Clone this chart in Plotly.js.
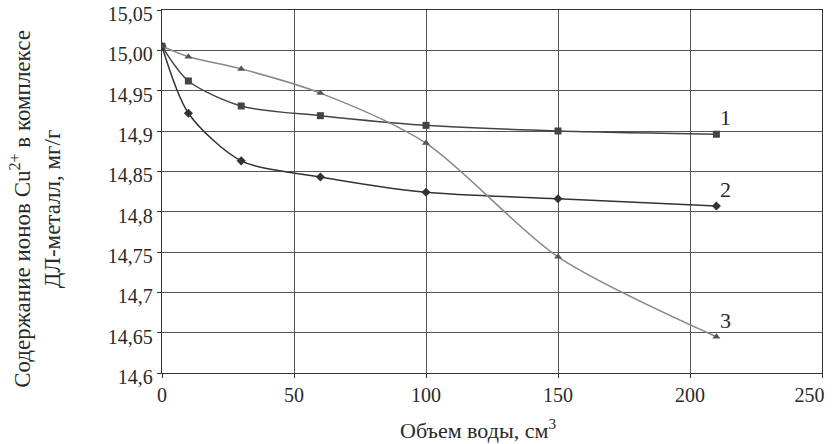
<!DOCTYPE html>
<html><head><meta charset="utf-8">
<script src="https://cdn.plot.ly/plotly-3.0.1.min.js"></script>
<style>body{margin:0;background:#fff}#chart{width:835px;height:444px}</style>
</head><body><div id="chart"></div>
<script>
const volume = [0, 10, 30, 60, 100, 150, 210];
const series1 = [15.005, 14.962, 14.931, 14.919, 14.907, 14.900, 14.896];
const series2 = [15.005, 14.922, 14.863, 14.843, 14.824, 14.816, 14.807];
const series3 = [15.005, 14.992, 14.977, 14.947, 14.885, 14.744, 14.645];
const seriesLabels = ['1', '2', '3'];
const yTickVals = [14.6, 14.65, 14.7, 14.75, 14.8, 14.85, 14.9, 14.95, 15.0, 15.05];
const yTickText = ['14,6', '14,65', '14,7', '14,75', '14,8', '14,85', '14,9', '14,95', '15,00', '15,05'];
const xTickVals = [0, 50, 100, 150, 200, 250];
const xTickText = ['0', '50', '100', '150', '200', '250\u00a0\u00a0\u00a0\u00a0\u00a0'];
const xTitle = 'Объем воды, см<sup>3</sup>';
const yTitle = 'Содержание ионов Cu<sup>2+</sup> в комплексе<br>ДЛ-металл, мг/г';

const font = {family: 'Liberation Serif, serif', color: '#2a2a2a'};
function tr(y, sym, col, lc) {
  return {x: volume, y: y, mode: 'lines+markers', type: 'scatter',
    line: {shape: 'spline', smoothing: 0.8, color: lc, width: 1.5},
    marker: {symbol: sym, size: 7, color: col}, showlegend: false, hoverinfo: 'skip'};
}
const data = [
  tr(series1, 'square', '#444', '#444'),
  tr(series2, 'diamond', '#333', '#333'),
  tr(series3, 'triangle-up', '#555', '#888')
];
const last = volume.length - 1;
const labelYs = [series1[last], series2[last], series3[last]];
const annotations = seriesLabels.map((t, i) => ({
  x: volume[last], y: labelYs[i], text: t, showarrow: false,
  xanchor: 'left', yanchor: 'bottom', xshift: 2, yshift: 2,
  font: Object.assign({size: 22}, font)
}));
annotations.push({xref: 'paper', yref: 'paper', x: -0.191, y: 0.452, textangle: -90,
  xanchor: 'center', yanchor: 'middle', showarrow: false, text: yTitle,
  font: Object.assign({size: 23}, font)});
annotations.push({xref: 'paper', yref: 'paper', x: 0.479, y: -0.155,
  xanchor: 'center', yanchor: 'middle', showarrow: false, text: xTitle,
  font: Object.assign({size: 22}, font)});
const layout = {
  width: 835, height: 444,
  margin: {l: 162, r: 13, t: 10, b: 71},
  paper_bgcolor: '#fff', plot_bgcolor: '#fff',
  font: Object.assign({size: 20}, font),
  xaxis: {range: [0, 250], tickvals: xTickVals, ticktext: xTickText,
    showgrid: true, gridcolor: '#555', gridwidth: 1, zeroline: false,
    showline: true, linecolor: '#333', linewidth: 1.2, mirror: true,
    ticks: 'outside', ticklen: 4, tickcolor: '#333', ticklabeloverflow: 'allow',
    tickfont: Object.assign({size: 20}, font)},
  yaxis: {range: [14.6, 15.05], tickvals: yTickVals, ticktext: yTickText,
    showgrid: true, gridcolor: '#555', gridwidth: 1, zeroline: false,
    showline: true, linecolor: '#333', linewidth: 1.2, mirror: true,
    ticks: 'outside', ticklen: 4, tickcolor: '#333', ticklabeloverflow: 'allow',
    ticklabelshift: 4,
    tickfont: Object.assign({size: 20}, font)},
  annotations: annotations
};
Plotly.newPlot('chart', data, layout, {staticPlot: true, displayModeBar: false});
</script></body></html>
